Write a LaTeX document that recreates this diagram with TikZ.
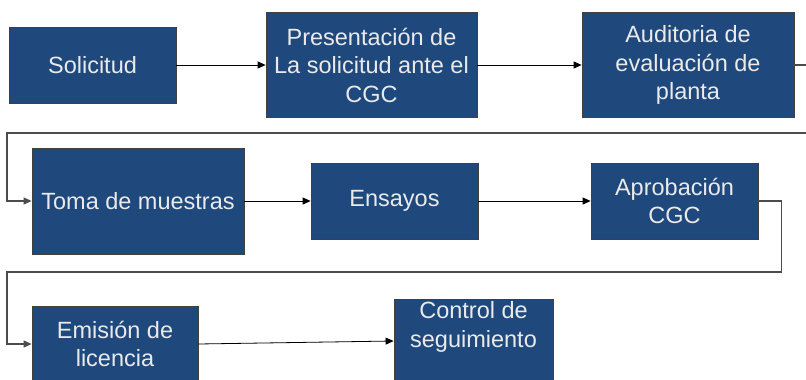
\documentclass[tikz,border=0pt]{standalone}
\usepackage{fontspec}
\setmainfont{Liberation Sans}
\usetikzlibrary{arrows.meta}
\definecolor{boxblue}{RGB}{31,73,125}
\definecolor{boxtext}{RGB}{234,234,234}

\begin{document}
\begin{tikzpicture}[x=1pt,y=-1pt,
   paso/.style={draw=black!75,line width=0.8pt,fill=boxblue,text=boxtext,align=center,
                inner sep=0pt,font=\fontsize{23.5}{28.5}\selectfont},
   flecha/.style={-{Triangle[length=8pt,width=7pt]},line width=0.8pt},
   vuelta/.style={flecha,draw=black!70,line width=1.1pt}]
   \useasboundingbox (0,0) rectangle (806,380);
   \clip (0,0) rectangle (806,380);
   \node[paso,minimum width=167pt,minimum height=76pt] (sol) at (92.5,65) {Solicitud};
   \node[paso,minimum width=211pt,minimum height=105pt] (pres) at (371.5,65) {Presentación de\\La solicitud ante el\\CGC};
   \node[paso,minimum width=212pt,minimum height=105pt] (aud) at (688,65) {Auditoria de\\evaluación de\\planta};
   \node[paso,minimum width=212pt,minimum height=106pt] (toma) at (138,201) {Toma de muestras};
   \node[paso,minimum width=167pt,minimum height=76pt] (ens) at (394.5,201) {Ensayos};
   \node[paso,minimum width=167pt,minimum height=76pt] (apr) at (674.5,201) {Aprobación\\CGC};
   \node[paso,minimum width=166pt,minimum height=76pt] (emi) at (115,344) {Emisión de\\licencia};
   \node[paso,minimum width=159pt,minimum height=84pt] (ctl) at (473.5,341) {};
   \node[text=boxtext,align=center,font=\fontsize{23.5}{28.5}\selectfont] (ctltxt) at ([yshift=14pt]ctl.center) {Control de\\seguimiento};
   \coordinate (vueltaA) at (7,133);
   \coordinate (vueltaB) at (7,272);
   \draw[flecha] (sol) -- (pres);
   \draw[flecha] (pres) -- (aud);
   \draw[vuelta] (aud.east) -- ++(20,0) |- (vueltaA) |- (toma.west);
   \draw[flecha] (toma) -- (ens);
   \draw[flecha] (ens) -- (apr);
   \draw[vuelta] (apr.east) -- ++(23,0) |- (vueltaB) |- (emi.west);
   \draw[flecha] (emi.east) -- (ctl.west);
  \end{tikzpicture}
\end{document}
